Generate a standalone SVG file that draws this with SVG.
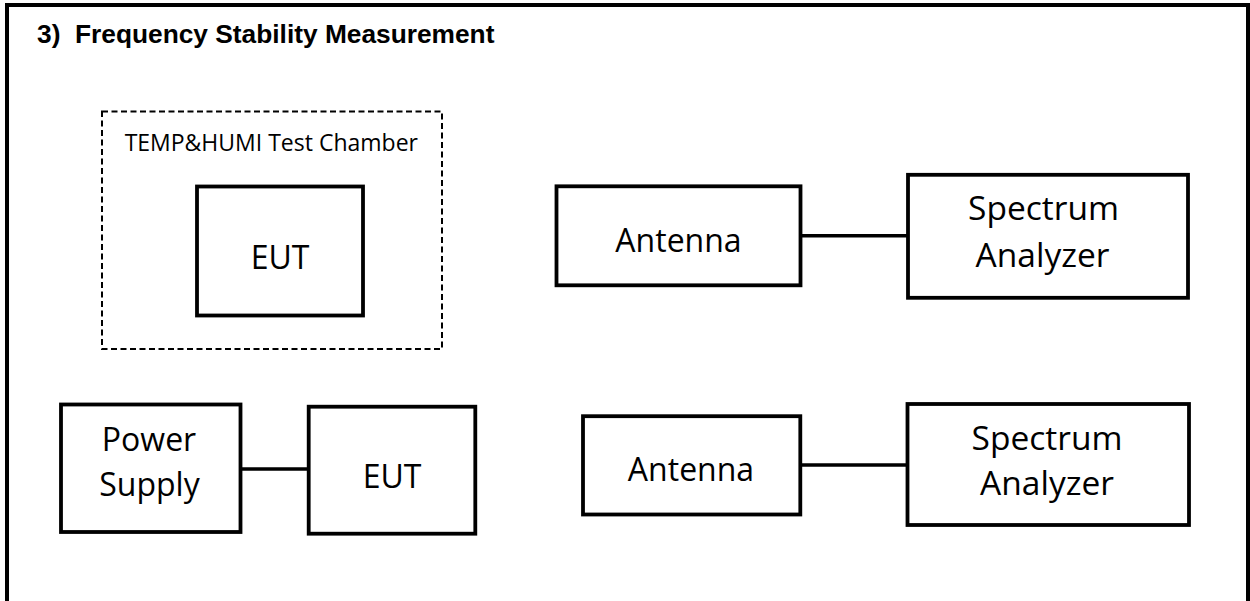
<svg xmlns="http://www.w3.org/2000/svg" width="1250" height="601" viewBox="0 0 1250 601">
<style>
.box{fill:#fff;stroke:#000;stroke-width:3.8}
.lbl{font-family:"Open Sans","Noto Sans","Liberation Sans",sans-serif;font-size:32px;fill:#000;text-anchor:middle}
.sa{font-size:33.5px}
.conn{stroke:#000;stroke-width:3.5;fill:none}
</style>
<rect width="1250" height="601" fill="#fff"/>
<path d="M7,601 V5 H1248 V601" fill="none" stroke="#000" stroke-width="4"/>
<text x="37" y="43" font-family="'Liberation Sans',Arial,sans-serif" font-weight="bold" font-size="26.3" xml:space="preserve">3)  Frequency Stability Measurement</text>
<g id="chamber">
<rect x="102" y="111.5" width="340" height="237.5" fill="none" stroke="#000" stroke-width="2" stroke-dasharray="6 3.5"/>
<text x="271.3" y="150.7" class="lbl" style="font-size:23px">TEMP&amp;HUMI Test Chamber</text>
</g>
<g id="eut1">
<rect class="box" x="197" y="186.5" width="166" height="129"/>
<text class="lbl" x="280" y="269.3">EUT</text>
</g>
<g id="antenna1">
<rect class="box" x="556.5" y="186.3" width="244" height="99"/>
<text class="lbl" x="678.5" y="251.7">Antenna</text>
</g>
<g id="spectrum1">
<rect class="box" x="908" y="174.8" width="280" height="123"/>
<text class="lbl sa" x="1043.5" y="220">Spectrum</text>
<text class="lbl sa" x="1042.5" y="266.7">Analyzer</text>
</g>
<g id="power">
<rect class="box" x="61" y="404.5" width="179.5" height="127.5"/>
<text class="lbl" x="149" y="451">Power</text>
<text class="lbl" x="149.5" y="495.7">Supply</text>
</g>
<g id="eut2">
<rect class="box" x="308.7" y="406.7" width="166.6" height="127"/>
<text class="lbl" x="392" y="487.7">EUT</text>
</g>
<g id="antenna2">
<rect class="box" x="583" y="416.2" width="217.3" height="98.3"/>
<text class="lbl" x="691" y="481">Antenna</text>
</g>
<g id="spectrum2">
<rect class="box" x="907.5" y="404" width="281.5" height="121"/>
<text class="lbl sa" x="1047" y="449.5">Spectrum</text>
<text class="lbl sa" x="1047" y="495">Analyzer</text>
</g>
<g id="connectors">
<line class="conn" x1="800.5" y1="235.7" x2="908" y2="235.7"/>
<line class="conn" x1="240.5" y1="469" x2="308.7" y2="469"/>
<line class="conn" x1="800.3" y1="465" x2="907.5" y2="465"/>
</g>
</svg>
